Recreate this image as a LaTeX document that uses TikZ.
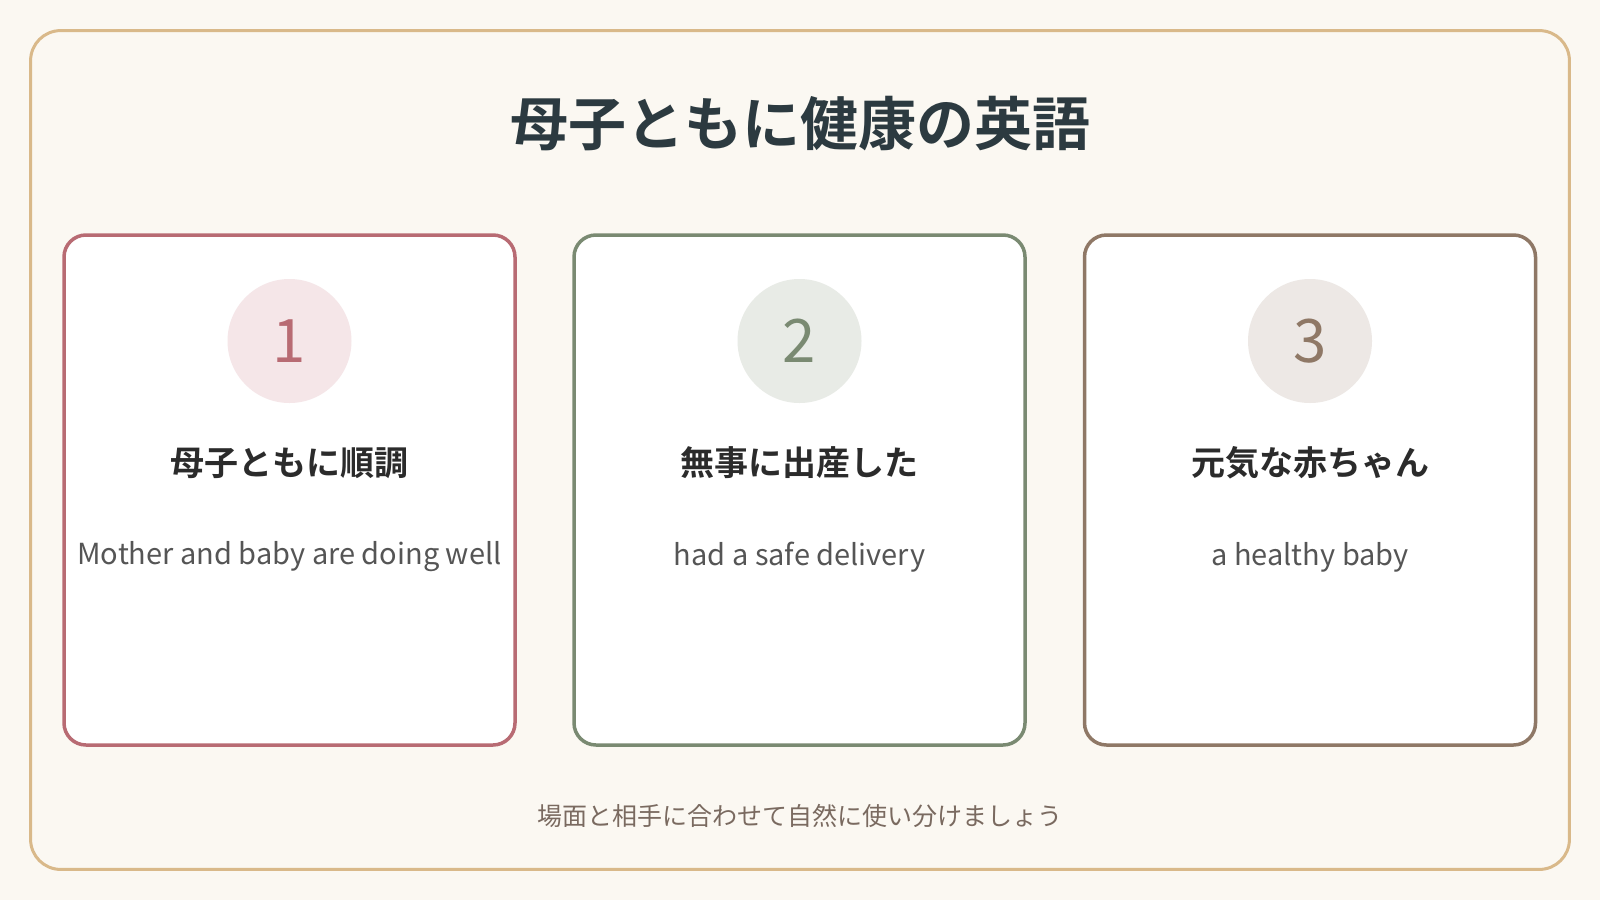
\documentclass[tikz,border=0pt]{standalone}
\usepackage{fontspec}
\setmainfont{Noto Sans CJK JP}
\newfontfamily\jpb{Noto Sans CJK JP}[BoldFont={* Bold}]
\definecolor{bg}{HTML}{FBF8F2}
\definecolor{frame}{HTML}{D9B98A}
\definecolor{ttl}{HTML}{2C3A40}
\definecolor{hd}{HTML}{2B2B2B}
\definecolor{en}{HTML}{555555}
\definecolor{ft}{HTML}{7A6A60}
\definecolor{ca}{HTML}{B86B73}\definecolor{fa}{HTML}{F5E6E8}
\definecolor{cb}{HTML}{7A8A72}\definecolor{fb}{HTML}{E8EBE6}
\definecolor{cc}{HTML}{8F7866}\definecolor{fc}{HTML}{EDE8E5}
\begin{document}
\begin{tikzpicture}[x=1pt,y=-1pt,
  card/.style={draw=#1,line width=3.5pt,fill=white,rounded corners=22pt},
  num/.style={circle,minimum size=124pt,inner sep=0pt,font=\fontsize{60}{60}\selectfont},
  head/.style={font=\jpb\bfseries\fontsize{34}{34}\selectfont,text=hd},
  eng/.style={font=\fontsize{29}{29}\selectfont,text=en}]
\fill[bg] (0,0) rectangle (1600,900);
\useasboundingbox (0,0) rectangle (1600,900);
\draw[frame,line width=3pt,rounded corners=30pt] (30.6,30.6) rectangle (1569.4,869.4);
\node[font=\jpb\bfseries\fontsize{58}{58}\selectfont,text=ttl] (title) at (800,124) {母子ともに健康の英語};
\foreach \x/\c/\f/\n/\h/\e [count=\i] in {289.5/ca/fa/1/母子ともに順調/Mother and baby are doing well,799.5/cb/fb/2/無事に出産した/had a safe delivery,1310/cc/fc/3/元気な赤ちゃん/a healthy baby}{
  \draw[card=\c] (\x-225.5,235) rectangle (\x+225.5,745);
  \node[num,fill=\f,text=\c] (n\i) at (\x,341) {\n};
  \node[head] (h\i) at (\x,463) {\h};
  \node[eng] (e\i) at (\x,557) {\e};
}
\node[font=\fontsize{25}{25}\selectfont,text=ft] (foot) at (800,816) {場面と相手に合わせて自然に使い分けましょう};
\end{tikzpicture}
\end{document}
